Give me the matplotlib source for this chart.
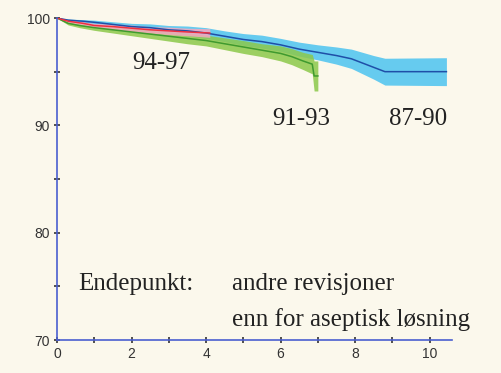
import matplotlib.pyplot as plt
import numpy as np

# survival curves (years, percent)
t_8790 = [0, 0.3, 0.7, 1.0, 1.5, 2.0, 2.5, 3.0, 3.5, 4.0, 4.5, 5.0, 5.5, 6.0, 6.5, 7.0, 7.5, 7.9, 8.2, 8.5, 8.8, 10.45]
s_8790 = [100, 99.8, 99.7, 99.6, 99.4, 99.2, 99.1, 98.9, 98.8, 98.6, 98.3, 98.0, 97.8, 97.5, 97.1, 96.8, 96.5, 96.2, 95.8, 95.4, 95.0, 95.0]
ci_8790 = [0, 0.1, 0.15, 0.2, 0.25, 0.3, 0.35, 0.4, 0.45, 0.5, 0.5, 0.55, 0.6, 0.6, 0.65, 0.7, 0.8, 0.9, 1.0, 1.1, 1.25, 1.3]

t_9193 = [0, 0.3, 0.6, 1.0, 1.5, 2.0, 2.5, 3.0, 3.5, 4.0, 4.5, 5.0, 5.5, 6.0, 6.3, 6.6, 6.85, 6.9, 7.0]
s_9193 = [100, 99.5, 99.3, 99.1, 98.9, 98.7, 98.5, 98.3, 98.1, 97.9, 97.6, 97.3, 97.0, 96.7, 96.4, 96.0, 95.7, 94.6, 94.6]
ci_9193 = [0, 0.15, 0.2, 0.25, 0.3, 0.35, 0.4, 0.45, 0.5, 0.5, 0.55, 0.6, 0.6, 0.7, 0.75, 0.8, 0.9, 1.4, 1.4]

t_9497 = [0, 0.3, 0.7, 1.0, 1.5, 2.0, 2.5, 3.0, 3.5, 4.1]
s_9497 = [100, 99.7, 99.5, 99.3, 99.2, 99.05, 98.9, 98.8, 98.7, 98.6]
ci_9497 = [0, 0.1, 0.15, 0.2, 0.25, 0.3, 0.3, 0.35, 0.35, 0.4]

bg = '#fbf8ec'
fig = plt.figure(figsize=(5.02, 3.73), dpi=100, facecolor=bg)
ax = fig.add_axes([57/502, 33/373, 395/502, 322/373])
ax.set_facecolor(bg)

def curve(t, s, ci, line_col, band_col):
    t = np.array(t); s = np.array(s); ci = np.array(ci)
    ax.fill_between(t, s - ci, s + ci, color=band_col, lw=0, alpha=0.85)
    ax.plot(t, s, color=line_col, lw=1.1)

curve(t_8790, s_8790, ci_8790, '#1f4fa8', '#4cc3f0')
curve(t_9193, s_9193, ci_9193, '#3f9a2f', '#8cc84a')
curve(t_9497, s_9497, ci_9497, '#ee3040', '#f5a8c0')

ax.set_xlim(0, 10.6)
ax.set_ylim(70, 100)
for side in ['top', 'right']:
    ax.spines[side].set_visible(False)
for side in ['left', 'bottom']:
    ax.spines[side].set_color('#4a5fd0')
    ax.spines[side].set_linewidth(1.2)

ax.set_xticks(np.arange(0, 11, 2))
ax.set_xticks(np.arange(1, 11, 2), minor=True)
ax.set_yticks([70, 80, 90, 100])
ax.set_yticks([75, 85, 95], minor=True)
ax.tick_params(which='both', direction='inout', length=4, width=1.2, color='#333333',
               labelsize=10, labelcolor='#333333', pad=3)
for lab in ax.get_xticklabels() + ax.get_yticklabels():
    lab.set_family('Liberation Sans')

serif = 'Liberation Serif'
kw = dict(family=serif, fontsize=18, va='center', color='#222222')
ax.text(2.8, 95.8, '94-97', ha='center', **kw)
ax.text(6.55, 90.6, '91-93', ha='center', **kw)
ax.text(9.7, 90.6, '87-90', ha='center', **kw)
ax.text(0.57, 75.2, 'Endepunkt:', ha='left', **kw)
ax.text(4.7, 75.2, 'andre revisjoner', ha='left', **kw)
ax.text(4.7, 71.9, 'enn for aseptisk løsning', ha='left', **kw)

fig.savefig('out.png', dpi=100, facecolor=bg)
